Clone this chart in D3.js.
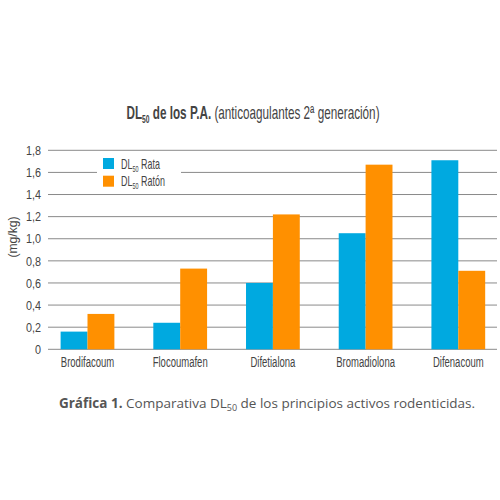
<!DOCTYPE html>
<html>
<head>
<meta charset="utf-8">
<script src="https://cdn.jsdelivr.net/npm/d3@7"></script>
<style>
    body { margin: 0; background: #fff; }
    svg text { font-family: "Liberation Sans", Arial, sans-serif; }
</style>
</head>
<body>
<svg id="chart"></svg>
<script>
const categories = ["Brodifacoum", "Flocoumafen", "Difetialona", "Bromadiolona", "Difenacoum"];
const series = ["Rata", "Ratón"];
const rata = [0.16, 0.24, 0.60, 1.05, 1.71];
const raton = [0.32, 0.73, 1.22, 1.67, 0.71];
const yTicks = [0, 0.2, 0.4, 0.6, 0.8, 1.0, 1.2, 1.4, 1.6, 1.8];

const colors = ["#00a9e0", "#ff9000"];
const textColor = "#444";

// the original uses a condensed face, so squeeze Liberation Sans sideways
const squeeze = (x, y, s) => `translate(${x},${y}) scale(${s},1)`;

const svg = d3.select("#chart")
    .attr("width", 500)
    .attr("height", 500);

const y = d3.scaleLinear()
    .domain([0, 1.8])
    .range([349.3, 150.3]);

const x = d3.scaleBand()
    .domain(categories)
    .range([41.15, 504.65])
    .paddingInner(0.42)
    .paddingOuter(0.21);

const xs = d3.scaleBand()
    .domain(series)
    .range([0, x.bandwidth()]);

// gridlines
svg.append("g")
    .selectAll("line")
    .data(yTicks)
    .join("line")
    .attr("x1", 48)
    .attr("x2", 497)
    .attr("y1", d => y(d))
    .attr("y2", d => y(d))
    .attr("stroke", "#8a8a8a")
    .attr("stroke-width", 1);

// y tick labels
svg.append("g")
    .selectAll("text")
    .data(yTicks)
    .join("text")
    .attr("transform", d => squeeze(41, y(d), 0.8))
    .attr("dy", "0.35em")
    .attr("text-anchor", "end")
    .attr("fill", textColor)
    .style("font-size", "13.5px")
    .text(d => d === 0 ? "0" : d3.format(".1f")(d).replace(".", ","));

// y label
svg.append("text")
    .attr("transform", "translate(12,237) rotate(-90) scale(0.9,1)")
    .attr("dy", "0.35em")
    .attr("text-anchor", "middle")
    .attr("fill", textColor)
    .style("font-size", "13.5px")
    .text("(mg/kg)");

// bars
const groups = svg.append("g")
    .selectAll("g")
    .data(categories)
    .join("g")
    .attr("transform", d => `translate(${x(d)},0)`);

groups.selectAll("rect")
    .data((d, i) => [rata[i], raton[i]])
    .join("rect")
    .attr("x", (d, j) => xs(series[j]))
    .attr("width", xs.bandwidth())
    .attr("y", d => y(d))
    .attr("height", d => y(0) - y(d))
    .attr("fill", (d, j) => colors[j]);

// category labels
svg.append("g")
    .selectAll("text")
    .data(categories)
    .join("text")
    .attr("transform", d => squeeze(x(d) + x.bandwidth() / 2, 367.3, 0.68))
    .attr("text-anchor", "middle")
    .attr("fill", textColor)
    .style("font-size", "14px")
    .text(d => d);

// legend
const legend = svg.append("g");
legend.append("rect")
    .attr("x", 97)
    .attr("y", 154)
    .attr("width", 84)
    .attr("height", 36)
    .attr("fill", "#fff");

series.forEach((s, i) => {
    const ly = 158 + i * 17.7;
    legend.append("rect")
        .attr("x", 103)
        .attr("y", ly)
        .attr("width", 11)
        .attr("height", 11)
        .attr("fill", colors[i]);
    const t = legend.append("text")
        .attr("transform", squeeze(121, ly + 10.5, 0.64))
        .attr("fill", textColor)
        .style("font-size", "14px");
    t.append("tspan").text("DL");
    t.append("tspan").attr("dy", 3).style("font-size", "8.5px").text("50");
    t.append("tspan").attr("dy", -3).text(" " + s);
});

// title
const title = svg.append("text")
    .attr("transform", squeeze(253, 119, 0.67))
    .attr("text-anchor", "middle")
    .attr("fill", textColor)
    .style("font-size", "17.5px");
title.append("tspan").style("font-weight", "bold").text("DL");
title.append("tspan").attr("dy", 4).style("font-weight", "bold").style("font-size", "10px").text("50");
title.append("tspan").attr("dy", -4).style("font-weight", "bold").text(" de los P.A.");
title.append("tspan").text(" (anticoagulantes 2ª generación)");

// caption
const caption = svg.append("text")
    .attr("x", 267)
    .attr("y", 408)
    .attr("text-anchor", "middle")
    .attr("fill", "#555")
    .style("font-family", "'Open Sans', sans-serif")
    .style("font-size", "13.5px");
caption.append("tspan").style("font-weight", "bold").text("Gráfica 1.");
caption.append("tspan").text(" Comparativa DL");
caption.append("tspan").attr("dy", 3).style("font-size", "9px").text("50");
caption.append("tspan").attr("dy", -3).text(" de los principios activos rodenticidas.");
</script>
</body>
</html>
